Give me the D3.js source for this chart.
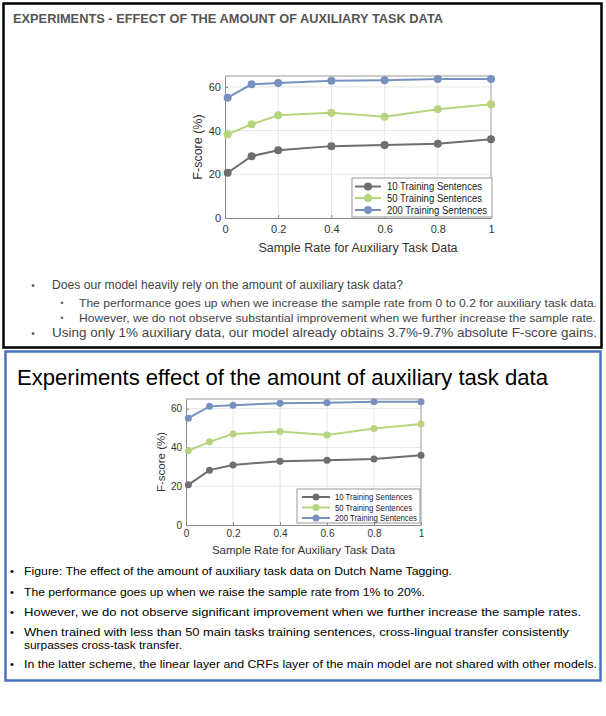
<!DOCTYPE html>
<html><head><meta charset="utf-8">
<script src="https://cdn.jsdelivr.net/npm/d3@7"></script>
<style>body{margin:0;background:#fff} svg{display:block}</style>
</head><body>
<script>
// ---------- data ----------
const sampleRates = [0.01, 0.1, 0.2, 0.4, 0.6, 0.8, 1.0];
const f10  = [20.7, 28.3, 31.0, 32.9, 33.4, 34.0, 36.0];
const f50  = [38.3, 42.9, 47.0, 48.2, 46.4, 49.8, 52.1];
const f200 = [55.1, 61.2, 61.8, 62.8, 63.1, 63.6, 63.6];
const seriesNames = ["10 Training Sentences", "50 Training Sentences", "200 Training Sentences"];
const xTickValues = [0, 0.2, 0.4, 0.6, 0.8, 1];
const xTickLabels = ["0", "0.2", "0.4", "0.6", "0.8", "1"];
const yTickValues = [0, 20, 40, 60];
const xAxisTitle = "Sample Rate for Auxiliary Task Data";
const yAxisTitle = "F-score (%)";
const panel1Title = "EXPERIMENTS - EFFECT OF THE AMOUNT OF AUXILIARY TASK DATA";
const panel1Bullets = [
  "Does our model heavily rely on the amount of auxiliary task data?",
  "The performance goes up when we increase the sample rate from 0 to 0.2 for auxiliary task data.",
  "However, we do not observe substantial improvement when we further increase the sample rate.",
  "Using only 1% auxiliary data, our model already obtains 3.7%-9.7% absolute F-score gains."
];
const panel2Title = "Experiments effect of the amount of auxiliary task data";
const panel2Bullets = [
  "Figure: The effect of the amount of auxiliary task data on Dutch Name Tagging.",
  "The performance goes up when we raise the sample rate from 1% to 20%.",
  "However, we do not observe significant improvement when we further increase the sample rates.",
  "When trained with less than 50 main tasks training sentences, cross-lingual transfer consistently",
  "surpasses cross-task transfer.",
  "In the latter scheme, the linear layer and CRFs layer of the main model are not shared with other models."
];

// ---------- styles ----------
const FONT = "'Liberation Sans', Arial, Helvetica, sans-serif";
const seriesColors = ["#6e6e6e", "#b7d57e", "#7791bf"];
const allSeries = [f10, f50, f200];

const svg = d3.select("body").append("svg")
  .attr("width", 606).attr("height", 716)
  .style("font-family", FONT);

// panels
svg.append("rect").attr("x", 3.5).attr("y", 3.5).attr("width", 598).attr("height", 344)
  .attr("fill", "#fff").attr("stroke", "#000").attr("stroke-width", 2.5);
svg.append("rect").attr("x", 5.5).attr("y", 351.5).attr("width", 595).attr("height", 329)
  .attr("fill", "#fff").attr("stroke", "#4a72c0").attr("stroke-width", 2.5);

function fitText(sel, x, y, txt, size, width, attrs) {
  const t = sel.append("text").attr("x", x).attr("y", y).text(txt)
    .attr("font-size", size).attr("dominant-baseline", "central");
  if (width) t.attr("textLength", width).attr("lengthAdjust", "spacingAndGlyphs");
  for (const k in (attrs || {})) t.attr(k, attrs[k]);
  return t;
}

// ---------- chart ----------
function drawChart(o) {
  const g = svg.append("g");
  const x = d3.scaleLinear().domain([0, 1]).range([o.left, o.right]);
  const y = d3.scaleLinear().domain([0, 65]).range([o.bottom, o.top]);

  g.append("rect").attr("x", o.left).attr("y", o.top)
    .attr("width", o.right - o.left).attr("height", o.bottom - o.top).attr("fill", "#fff");

  // grid
  g.append("g").selectAll("line").data(xTickValues.slice(1, -1)).join("line")
    .attr("x1", d => x(d)).attr("x2", d => x(d)).attr("y1", o.top).attr("y2", o.bottom)
    .attr("stroke", "#e6e6e6").attr("stroke-width", 1);
  g.append("g").selectAll("line").data(yTickValues.slice(1)).join("line")
    .attr("y1", d => y(d)).attr("y2", d => y(d)).attr("x1", o.left).attr("x2", o.right)
    .attr("stroke", "#e6e6e6").attr("stroke-width", 1);

  // axes
  const xa = g.append("g").attr("transform", `translate(0,${o.bottom})`)
    .call(d3.axisBottom(x).tickValues(xTickValues).tickFormat((d, i) => xTickLabels[i])
      .tickSizeInner(-3).tickSizeOuter(0).tickPadding(o.xPad));
  const ya = g.append("g").attr("transform", `translate(${o.left},0)`)
    .call(d3.axisLeft(y).tickValues(yTickValues).tickSizeInner(-3).tickSizeOuter(0).tickPadding(o.yPad));
  [xa, ya].forEach(a => {
    a.selectAll("text").attr("font-size", o.tickFont).attr("fill", "#333").attr("font-family", FONT);
    a.selectAll("line").attr("stroke", "#888");
    a.select(".domain").attr("stroke", "#888");
  });
  // top/right frame
  g.append("path").attr("d", `M${o.left},${o.top}H${o.right}V${o.bottom}`)
    .attr("fill", "none").attr("stroke", "#999").attr("stroke-width", 1);

  // lines
  const line = d3.line().x((d, i) => x(sampleRates[i])).y(d => y(d));
  allSeries.forEach((s, k) => {
    g.append("path").datum(s).attr("d", line).attr("fill", "none")
      .attr("stroke", seriesColors[k]).attr("stroke-width", o.lw);
    g.append("g").selectAll("circle").data(s).join("circle")
      .attr("cx", (d, i) => x(sampleRates[i])).attr("cy", d => y(d)).attr("r", o.r)
      .attr("fill", seriesColors[k]);
  });

  // axis titles
  g.append("text").attr("x", (o.left + o.right) / 2).attr("y", o.xTitleY)
    .attr("text-anchor", "middle").attr("dominant-baseline", "central")
    .attr("font-size", o.labelFont).attr("fill", "#333").text(xAxisTitle);
  g.append("text").attr("transform", `translate(${o.yTitleX},${(o.top + o.bottom) / 2}) rotate(-90)`)
    .attr("text-anchor", "middle").attr("dominant-baseline", "central")
    .attr("font-size", o.labelFont).attr("fill", "#333").text(yAxisTitle);

  // legend
  const L = o.legend;
  g.append("rect").attr("x", L.x0).attr("y", L.y0).attr("width", L.x1 - L.x0).attr("height", L.y1 - L.y0)
    .attr("fill", "#fff").attr("stroke", "#999").attr("stroke-width", 1);
  seriesNames.forEach((nm, k) => {
    const yy = L.rows[k];
    g.append("line").attr("x1", L.lx0).attr("x2", L.lx1).attr("y1", yy).attr("y2", yy)
      .attr("stroke", seriesColors[k]).attr("stroke-width", o.lw);
    g.append("circle").attr("cx", (L.lx0 + L.lx1) / 2).attr("cy", yy).attr("r", o.r).attr("fill", seriesColors[k]);
    g.append("text").attr("x", L.tx).attr("y", yy).attr("dominant-baseline", "central")
      .attr("font-size", L.font).attr("fill", "#222")
      .attr("textLength", L.widths[k]).attr("lengthAdjust", "spacingAndGlyphs").text(nm);
  });
}

drawChart({
  left: 225, right: 491, top: 76, bottom: 218, tickFont: 11, labelFont: 12.5,
  xPad: 7, yPad: 4, xTitleY: 248, yTitleX: 198, lw: 2, r: 4,
  legend: { x0: 352, y0: 178, x1: 492, y1: 217, rows: [186.5, 198, 210], lx0: 355, lx1: 381, tx: 387, font: 10,
            widths: [95, 95, 100] }
});
drawChart({
  left: 186, right: 421, top: 399, bottom: 525, tickFont: 10, labelFont: 11.5,
  xPad: 5, yPad: 4, xTitleY: 550, yTitleX: 161, lw: 2, r: 3.5,
  legend: { x0: 297, y0: 489, x1: 420, y1: 523, rows: [497, 507.5, 518], lx0: 302, lx1: 330, tx: 335, font: 9,
            widths: [77, 77, 82] }
});

// ---------- panel 1 text ----------
fitText(svg, 13, 19, panel1Title, 12, 430, { "font-weight": "bold", fill: "#555" });
const p1 = [
  { b: 33, x: 52, y: 285, size: 12.5, w: 351, t: panel1Bullets[0] },
  { b: 62, x: 79, y: 303, size: 10.5, w: 518, t: panel1Bullets[1] },
  { b: 62, x: 79, y: 318, size: 10.5, w: 517, t: panel1Bullets[2] },
  { b: 33, x: 52, y: 333, size: 12.5, w: 545, t: panel1Bullets[3] }
];
p1.forEach(d => {
  fitText(svg, d.b, d.y, "•", d.size * 0.8, null, { fill: "#555", "text-anchor": "middle" });
  fitText(svg, d.x, d.y, d.t, d.size, d.w, { fill: "#444" });
});

// ---------- panel 2 text ----------
fitText(svg, 17, 377, panel2Title, 22, 531, { fill: "#000" });
const p2 = [
  { y: 571, w: 428, bullet: true },
  { y: 592, w: 401, bullet: true },
  { y: 612, w: 557, bullet: true },
  { y: 632, w: 545, bullet: true },
  { y: 645, w: 158, bullet: false },
  { y: 664, w: 573, bullet: true }
];
p2.forEach((d, i) => {
  if (d.bullet) fitText(svg, 12, d.y, "•", 11, null, { fill: "#000", "text-anchor": "middle" });
  fitText(svg, 24, d.y, panel2Bullets[i], 11.5, d.w, { fill: "#000" });
});
</script>
</body></html>
